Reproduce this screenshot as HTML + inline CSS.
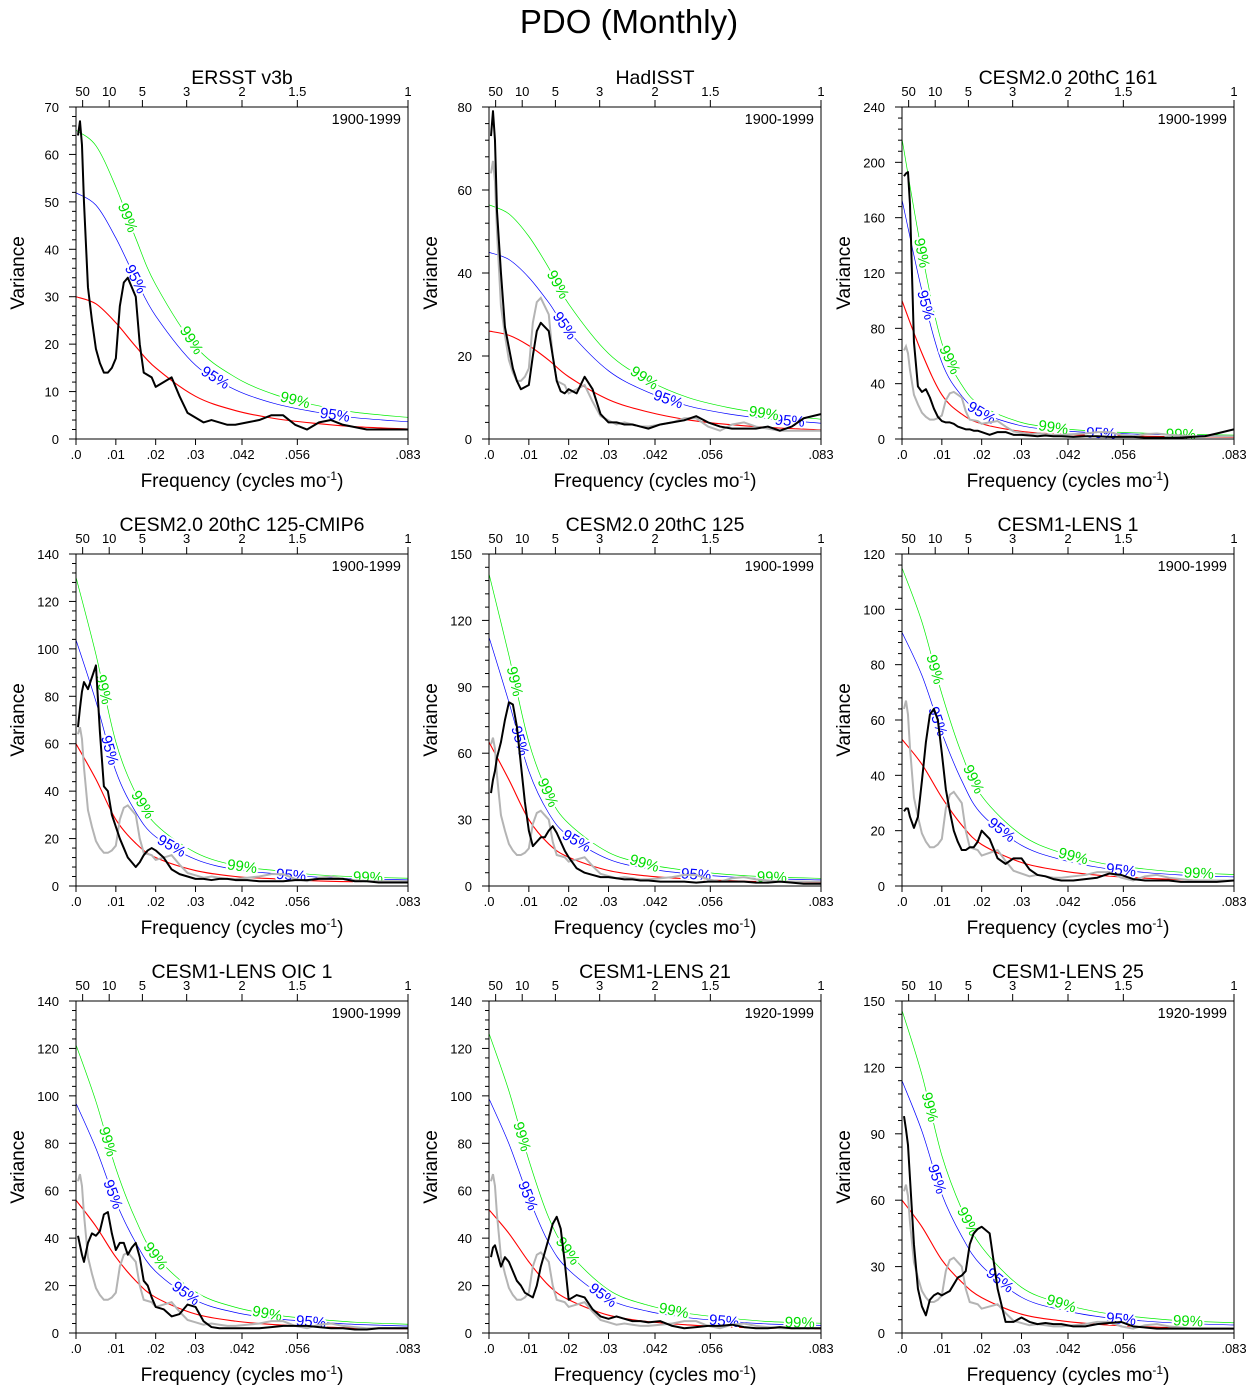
<!DOCTYPE html>
<html><head><meta charset="utf-8"><style>
body{margin:0;background:#fff}
svg text{font-family:"Liberation Sans",sans-serif}
</style></head><body>
<svg id="chart" width="1254" height="1394" xmlns="http://www.w3.org/2000/svg">
<text x="629" y="33" font-size="33" text-anchor="middle">PDO (Monthly)</text>
</svg>
<script>
const freqs=[0.0005,0.001,0.0015,0.002,0.003,0.004,0.005,0.006,0.007,0.008,0.009,0.010,0.011,0.012,0.013,0.014,0.015,0.016,0.017,0.018,0.019,0.020,0.022,0.024,0.026,0.028,0.030,0.032,0.034,0.036,0.038,0.040,0.043,0.046,0.049,0.052,0.055,0.058,0.061,0.064,0.067,0.070,0.073,0.076,0.079,0.0833];
const redFreqs=[0,0.005,0.01,0.015,0.02,0.03,0.04,0.05,0.06,0.07,0.0833];
const ciFactors=[[1.73,2.17],[1.73,2.17],[1.73,2.17],[1.73,2.17],[1.73,2.17],[1.73,2.17],[1.73,2.17],[1.9,2.43],[1.9,2.43]]; // 95%, 99%
const titles=["ERSST v3b","HadISST","CESM2.0 20thC 161","CESM2.0 20thC 125-CMIP6","CESM2.0 20thC 125","CESM1-LENS 1","CESM1-LENS OIC 1","CESM1-LENS 21","CESM1-LENS 25"];
const periods=["1900-1999","1900-1999","1900-1999","1900-1999","1900-1999","1900-1999","1900-1999","1920-1999","1920-1999"];
const yMax=[70,80,240,140,150,120,140,140,150];
const yStep=[10,20,40,20,30,20,20,20,30];
const ersst=[64,67,62,50,32,25,19,16,14,14,15,17,28,33,34,32,30,20,14,13.5,13,11,12,13,9,5.5,4.5,3.5,4,3.5,3,3,3.5,4,5,5,3,2,3.5,4,3,2.5,2,2,2,2];
const spectra=[
ersst,
[73,79,72,55,40,27,22,17,14,12,12.5,13,20,26,28,27,26,20,14,11.5,11,12,11,15,12,6,4,4,3.5,3.5,3,2.5,3.5,4,4.5,5.5,4,3,2.5,2.5,2.5,3,2,3,5,6],
[190,192,193,170,70,38,34,36,30,22,16,13,12,12,11,9,8,7,7,6,6,5,3,5,5,3,3,2.5,2,2.5,2,2,1.5,2,2,1.5,1.5,1.5,1,1,1,1,1.5,2,4,7],
[67,75,82,86,83,88,93,65,42,40,30,25,20,16,12,10,8,10,13,15,16,15,12,7,5,4,3,3,2.5,3,3,2.5,2.5,2,2,2,2.5,2.5,3,3,3,2,2,1.5,1.5,1.5],
[42,48,52,58,65,75,83,82,72,55,38,25,18,20,22,22,25,27,24,20,16,13,8,6,5,4,4,3.5,3,3,2.5,2.5,2,2,2,1.5,2,2,2,2,1.5,1.5,2,1.5,1,1],
[27,28,28,25,21,25,38,52,62,64,60,48,35,27,20,16,13,13,14,14,16,20,17,10,8,10,10,6,4,3.5,2.5,2,2,2.5,3,4.5,4,2.5,2,2,2,1.5,1.5,1.5,1.5,2],
[41,37,33,30,38,42,41,43,50,51,42,35,38,38,33,36,38,32,22,20,15,11,10,7,8,12,11,5,2.5,2,2,2,2,2,2.5,3,3,3,2.5,2,2,1.5,1.5,2,2,2],
[32,36,37,34,28,32,30,26,22,20,17,16,15,20,28,34,40,46,49,44,30,14,16,15,10,7,6,7,6,5,5,4.5,5,3,2,2.5,3,3,3.5,2.5,2,2,2.5,2,2,2],
[98,92,85,70,40,20,12,8,15,17,18,17,18,19,22,25,26,28,40,45,47,48,45,20,5,5,7,5,4,4.5,4,4,3,3,4,4.5,5,3,2.5,2,2,2,2,2,2,2]
];
const redCurves=[
[30,28.5,24.5,19.5,15,9,6,4.3,3.3,2.6,2.1],
[26,25,22.5,19,15,9.5,6.5,4.6,3.5,2.8,2.2],
[100,62,32,18,11,5.5,3.5,2.5,2,1.6,1.3],
[60,45,28,18,12,6.5,4,3,2.2,1.8,1.5],
[65,48,30,19,13,7,4.5,3.2,2.4,1.9,1.6],
[53,44,32,22,15,8.5,5.5,3.8,2.9,2.3,1.9],
[56,45,32,22,15,8,5,3.5,2.7,2.1,1.7],
[52,42,30,20,14,7.5,4.8,3.4,2.6,2,1.7],
[60,48,33,23,16,8.5,5.5,3.8,2.9,2.3,1.9]
];
const lab99=[[.013,.029,.055],[.0173,.039,.069],[.005,.012,.038,.070],[.007,.0168,.0417,.0733],[.0065,.0148,.039,.071],[.0083,.018,.043,.0745],[.008,.020,.048],[.0083,.0198,.0464,.078],[.007,.0166,.040,.0718]];
const lab95=[[.015,.035,.065],[.019,.045,.0755],[.006,.02,.05],[.0085,.024,.054],[.0078,.022,.052],[.009,.025,.055],[.0093,.0276,.059],[.0098,.0286,.059],[.0088,.0246,.055]];
const xTickVals=[0,0.01,0.02,0.03,1/24,1/18,1/12];
const xTickLabels=[".0",".01",".02",".03",".042",".056",".083"];
const periodVals=[50,10,5,3,2,1.5,1];
const periodLabels=["50","10","5","3","2","1.5","1"];

const NS="http://www.w3.org/2000/svg";
const svg=document.getElementById('chart');
const colX=[76,489,902], rowY=[107,554,1001], S=332, FMAX=1/12;
function mk(tag,attrs,parent){const e=document.createElementNS(NS,tag);for(const k in attrs)e.setAttribute(k,attrs[k]);(parent||svg).appendChild(e);return e;}
function smoothPath(pts){let d="M"+pts[0][0].toFixed(2)+","+pts[0][1].toFixed(2);
 for(let i=0;i<pts.length-1;i++){const p0=pts[Math.max(i-1,0)],p1=pts[i],p2=pts[i+1],p3=pts[Math.min(i+2,pts.length-1)];
  const c1=[p1[0]+(p2[0]-p0[0])/6,p1[1]+(p2[1]-p0[1])/6],c2=[p2[0]-(p3[0]-p1[0])/6,p2[1]-(p3[1]-p1[1])/6];
  d+=" C"+c1.map(v=>v.toFixed(2))+" "+c2.map(v=>v.toFixed(2))+" "+p2[0].toFixed(2)+","+p2[1].toFixed(2);}
 return d;}
function interpRed(arr,f){for(let i=0;i<redFreqs.length-1;i++){if(f<=redFreqs[i+1]){const t=(f-redFreqs[i])/(redFreqs[i+1]-redFreqs[i]);return arr[i]+(arr[i+1]-arr[i])*t;}}return arr[arr.length-1];}

for(let p=0;p<9;p++){
 const x0=colX[p%3], y0=rowY[Math.floor(p/3)], ym=yMax[p];
 const X=f=>x0+f/FMAX*S, Y=v=>y0+S-v/ym*S;
 const g=mk('g',{});
 
 
 const cid='clip'+p;
 const cp=mk('clipPath',{id:cid},g); mk('rect',{x:x0,y:y0,width:S,height:S},cp);
 const t=mk('text',{x:x0+S/2,y:y0-23,'font-size':19.5,'text-anchor':'middle'},g); t.textContent=titles[p];
  
 const pl=mk('text',{x:x0+S-7,y:y0+17,'font-size':14.5,'text-anchor':'end'},g); pl.textContent=periods[p];
  
 const cg=mk('g',{'clip-path':'url(#'+cid+')'},g);
 const redPts=redFreqs.map((f,i)=>[X(f),Y(redCurves[p][i])]);
 const ciCols=['#0000ff','#00ee00'];
 ciFactors[p].forEach((fac,k)=>{const e=mk('path',{d:smoothPath(redFreqs.map((f,i)=>[X(f),Y(redCurves[p][i]*fac)])),fill:'none',stroke:ciCols[k],'stroke-width':0.7},cg);
   });
 const rl=mk('path',{d:smoothPath(redPts),fill:'none',stroke:'#ff0000','stroke-width':1.1},cg);
  
 const lg=mk('g',{},g);
 [[lab95[p],ciFactors[p][0],'#0000ff','95%'],[lab99[p],ciFactors[p][1],'#00dd00','99%']].forEach(([list,fac,col,txt])=>{
  list.forEach(f=>{const xa=X(f-0.0008),ya=Y(interpRed(redCurves[p],f-0.0008)*fac),xb=X(f+0.0008),yb=Y(interpRed(redCurves[p],f+0.0008)*fac);
   const ang=Math.atan2(yb-ya,xb-xa)*180/Math.PI;const cx=X(f),cy=Y(interpRed(redCurves[p],f)*fac);
   const e=mk('text',{x:cx,y:cy+5,'font-size':15,'text-anchor':'middle',fill:col,stroke:'#fff','stroke-width':4,'paint-order':'stroke',transform:'rotate('+ang.toFixed(1)+' '+cx.toFixed(1)+' '+cy.toFixed(1)+')'},lg);
   e.textContent=txt;  });
 });
 const cg2=mk('g',{'clip-path':'url(#'+cid+')'},g);
 if(p>0){const gl=mk('polyline',{points:freqs.map((f,i)=>X(f)+','+Y(ersst[i])).join(' '),fill:'none',stroke:'#b4b4b4','stroke-width':2},cg2);
   }
 const bl=mk('polyline',{points:freqs.map((f,i)=>X(f)+','+Y(spectra[p][i])).join(' '),fill:'none',stroke:'#000','stroke-width':2,'stroke-linejoin':'round'},cg2);
  
 const fr=mk('rect',{x:x0,y:y0,width:S,height:S,fill:'none',stroke:'#000','stroke-width':1},g);
  
 for(let v=0;v<=ym+1e-9;v+=yStep[p]){const y=Y(v);mk('line',{x1:x0-7,x2:x0,y1:y,y2:y,stroke:'#000'},g);
  const e=mk('text',{x:x0-17,y:y+5,'font-size':13,'text-anchor':'end'},g);e.textContent=v;
   
  if(v<ym)for(let m=1;m<5;m++){const yy=Y(v+m*yStep[p]/5);mk('line',{x1:x0-4,x2:x0,y1:yy,y2:yy,stroke:'#000'},g);}}
 const yl=mk('text',{x:0,y:0,'font-size':19,'text-anchor':'middle',transform:'translate('+(x0-52)+','+(y0+S/2)+') rotate(-90)'},g);yl.textContent='Variance';
  
 xTickVals.forEach((f,i)=>{const x=X(f);mk('line',{x1:x,x2:x,y1:y0+S,y2:y0+S+6,stroke:'#000'},g);
  const e=mk('text',{x:x,y:y0+S+20,'font-size':13,'text-anchor':'middle'},g);e.textContent=xTickLabels[i];
   });
 periodVals.forEach((P,i)=>{const x=X(1/(12*P));mk('line',{x1:x,x2:x,y1:y0-7,y2:y0,stroke:'#000'},g);
  const e=mk('text',{x:x,y:y0-11,'font-size':13,'text-anchor':'middle'},g);e.textContent=periodLabels[i];
   });
 const xl=mk('text',{x:x0+S/2,y:y0+S+48,'font-size':19,'text-anchor':'middle'},g);
 xl.innerHTML='Frequency (cycles mo<tspan dy="-7" font-size="12">-1</tspan><tspan dy="7">)</tspan>';
  
}
</script>
</body></html>
